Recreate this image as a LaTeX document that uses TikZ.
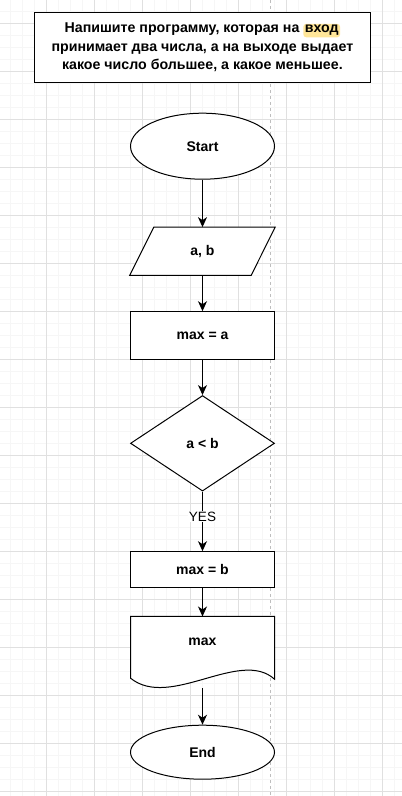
\documentclass[tikz,border=0pt]{standalone}
\usepackage{fontspec}
\setmainfont{Liberation Sans}
\usetikzlibrary{shapes.geometric,arrows.meta}

\definecolor{gridminor}{RGB}{246,246,246}
\definecolor{gridmajor}{RGB}{224,224,224}
\definecolor{pagebreak}{RGB}{190,190,190}
\definecolor{hlyellow}{RGB}{255,230,153}

\tikzset{
  block/.style={draw, line width=1pt, fill=white, inner sep=0pt,
    font=\bfseries\fontsize{14}{16}\selectfont},
  terminal/.style={block, ellipse, minimum width=144, minimum height=66},
  process/.style={block, rectangle, minimum width=143.6, minimum height=47.6},
  decision/.style={block, diamond, minimum width=144, minimum height=95.5},
  flow/.style={line width=1pt, -{Stealth[length=10pt, width=9pt, inset=3pt]}},
}

\newcommand{\hlword}[1]{\tikz[baseline=(hw.base)]\node[draw=none, fill=hlyellow,
  rounded corners=3pt, inner sep=1.5pt, minimum width=0pt, minimum height=0pt] (hw) {#1};}

\begin{document}
\begin{tikzpicture}[x=1pt, y=-1pt]
  \useasboundingbox (0,0) rectangle (402,796);
  \fill[white] (0,0) rectangle (402,796);

  % background grid
  \foreach \x in {10,22,...,398} \draw[gridminor, line width=1pt] (\x,0) -- (\x,796);
  \foreach \y in {11.3,23.3,...,795} \draw[gridminor, line width=1pt] (0,\y) -- (402,\y);
  \foreach \x in {46,94,...,398} \draw[gridmajor, line width=1pt] (\x,0) -- (\x,796);
  \foreach \y in {23.3,71.3,...,795} \draw[gridmajor, line width=1pt] (0,\y) -- (402,\y);
  \draw[pagebreak, line width=0.8pt, dash pattern=on 3pt off 3pt] (270.7,0) -- (270.7,796);

  % task
  \node[block, rectangle, minimum width=336.4, minimum height=70.5, align=center,
    font=\bfseries\fontsize{14.2}{18.2}\selectfont] (task) at (202.4,47.4)
    {Напишите программу, которая на \hlword{вход}\\
     принимает два числа, а на выходе выдает\\
     какое число большее, а какое меньшее.};

  % flowchart
  \node[terminal] (start) at (202.5,146.2) {Start};
  \node[inner sep=0pt, minimum width=145, minimum height=47.7] (input) at (202.5,251.2) {};
  \draw[line width=1pt, fill=white] ([xshift=24pt]input.north west) -- (input.north east)
    -- ([xshift=-24pt]input.south east) -- (input.south west) -- cycle;
  \node[font=\bfseries\fontsize{14}{16}\selectfont] (inputlbl) at (input) {a, b};
  \node[process] (maxa) at (202.5,335.5) {max = a};
  \node[decision] (cond) at (202.5,443.3) {a < b};
  \node[process, minimum height=35.6] (maxb) at (202.5,569.5) {max = b};
  \node[inner sep=0pt, minimum width=143.6, minimum height=71.3] (out) at (202.5,652.3) {};
  \draw[line width=1pt, fill=white] (out.north west) -- (out.north east)
    -- ([yshift=9pt]out.south east)
    .. controls (240,648) and (170,710) .. ([yshift=10pt]out.south west) -- cycle;
  \node[font=\bfseries\fontsize{14}{16}\selectfont] (outlbl) at (202.5,642) {max};
  \node[terminal, minimum height=54] (finish) at (202.5,752.2) {End};

  \draw[flow] (start) -- (input);
  \draw[flow] (input) -- (maxa);
  \draw[flow] (maxa) -- (cond);
  \draw[flow] (cond) -- node[pos=0.42, fill=white, inner sep=1pt,
    font=\fontsize{13.5}{15}\selectfont] (yes) {YES} (maxb);
  \draw[flow] (maxb) -- (out);
  \draw[flow] (out) -- (finish);
\end{tikzpicture}
\end{document}
